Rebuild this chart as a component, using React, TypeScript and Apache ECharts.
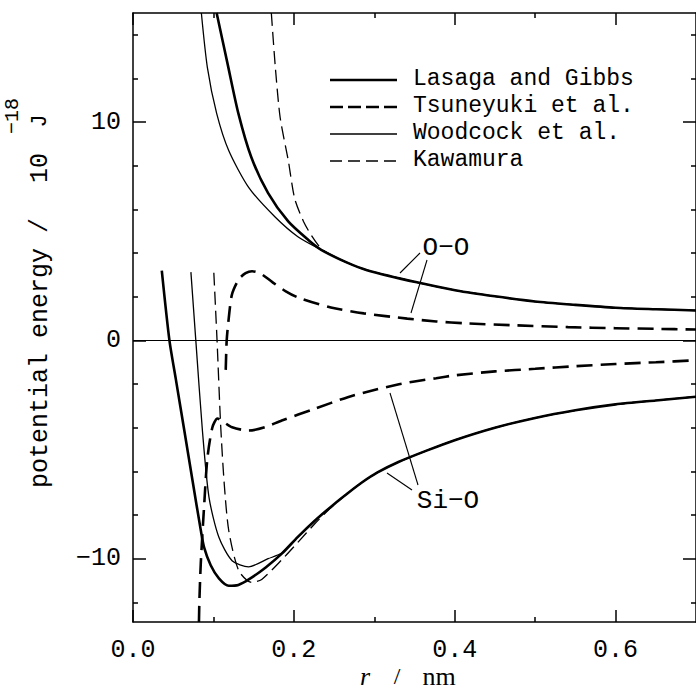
import React, { useEffect, useRef } from "react";
import * as echarts from "echarts";

// ---- axis ticks ----
const xMajor = [0, 0.2, 0.4, 0.6];
const xMinor = [0.1, 0.3, 0.5];
const yMajor = [-10, 0, 10];
const yMinor = [-12, -8, -6, -4, -2, 2, 4, 6, 8, 12, 14];

// ---- O-O curves [r (nm), energy (1e-18 J)] ----
const lasagaOO = [
  [0.104, 15.0], [0.118, 12.6], [0.131, 10.4], [0.147, 8.4], [0.168, 6.75], [0.193, 5.45],
  [0.218, 4.6], [0.234, 4.15], [0.267, 3.55], [0.291, 3.22], [0.353, 2.66], [0.402, 2.29],
  [0.45, 2.02], [0.5, 1.78], [0.55, 1.63], [0.6, 1.5], [0.65, 1.43], [0.7, 1.37],
];
const woodcockOO = [
  [0.085, 15.0], [0.0925, 12.5], [0.104, 10.4], [0.119, 8.7], [0.144, 7.0], [0.177, 5.64],
  [0.205, 4.75], [0.234, 4.15],
];
const kawamuraOO = [
  [0.172, 15.0], [0.177, 12.5], [0.183, 10.2], [0.193, 8.26], [0.201, 6.5], [0.212, 5.45],
  [0.222, 4.8], [0.234, 4.2], [0.245, 3.95],
];
const tsuneyukiOO = [
  [0.1153, -1.35], [0.1165, 0.0], [0.119, 1.0], [0.123, 2.1], [0.1315, 2.8], [0.14, 3.08],
  [0.148, 3.17], [0.158, 3.08], [0.174, 2.65], [0.19, 2.25], [0.205, 1.97], [0.246, 1.51],
  [0.287, 1.24], [0.341, 1.0], [0.377, 0.87], [0.414, 0.78], [0.476, 0.69], [0.541, 0.61],
  [0.6, 0.56], [0.65, 0.53], [0.7, 0.5],
];

// ---- Si-O curves ----
const lasagaSiO = [
  [0.0358, 3.2], [0.0453, 0.0], [0.0535, -1.83], [0.0638, -4.13], [0.074, -6.42], [0.0843, -8.7],
  [0.0884, -9.48], [0.0966, -10.3], [0.1068, -10.9], [0.119, -11.24], [0.131, -11.2],
  [0.144, -10.95], [0.165, -10.4], [0.185, -9.77], [0.205, -9.0], [0.226, -8.26], [0.25, -7.5],
  [0.267, -7.0], [0.285, -6.5], [0.304, -6.05], [0.33, -5.57], [0.365, -5.05], [0.4, -4.57],
  [0.45, -4.0], [0.5, -3.55], [0.55, -3.2], [0.6, -2.93], [0.65, -2.75], [0.7, -2.58],
];
const woodcockSiO = [
  [0.072, 3.13], [0.0781, 0.0], [0.0863, -4.13], [0.0945, -7.19], [0.1068, -9.02],
  [0.1232, -10.09], [0.1438, -10.37], [0.168, -10.0], [0.185, -9.74],
];
const kawamuraSiO = [
  [0.1005, 3.1], [0.1045, 0.0], [0.109, -3.9], [0.1135, -6.6], [0.1191, -8.72], [0.1315, -10.55],
  [0.1478, -11.09], [0.16, -10.95], [0.185, -10.05], [0.205, -9.25], [0.226, -8.4], [0.245, -7.7],
];
const tsuneyukiSiO = [
  [0.0815, -14.0], [0.0825, -12.0], [0.0843, -10.2], [0.0884, -7.6], [0.0925, -5.4],
  [0.0986, -4.0], [0.105, -3.58], [0.112, -3.72], [0.1232, -3.98], [0.1438, -4.13],
  [0.164, -3.98], [0.185, -3.67], [0.226, -3.13], [0.267, -2.6], [0.3, -2.27], [0.328, -2.03],
  [0.35, -1.88], [0.377, -1.73], [0.4, -1.6], [0.45, -1.42], [0.5, -1.3], [0.55, -1.18],
  [0.6, -1.08], [0.65, -1.0], [0.7, -0.91],
];

const legendNames = ["Lasaga and Gibbs", "Tsuneyuki et al.", "Woodcock et al.", "Kawamura"];

const MONO = '"Liberation Mono", "DejaVu Sans Mono", monospace';
const SERIF = '"Liberation Serif", "DejaVu Serif", serif';

const THICK = 2.6;
const THIN = 1.3;
const DASH_THICK = [16, 8];
const DASH_THIN = [13, 6];

function xAx(position: string, values: number[], len: number, showLine: boolean, labels: boolean) {
  return {
    type: "value",
    position,
    min: 0,
    max: 0.7,
    axisLine: { show: showLine, onZero: false, lineStyle: { color: "#000", width: 1.5 } },
    axisTick: { show: true, inside: true, length: len, customValues: values, lineStyle: { color: "#000", width: 1.5 } },
    axisLabel: labels
      ? {
          show: true,
          customValues: values,
          margin: 16,
          formatter: (v: number) => v.toFixed(1),
          fontFamily: MONO,
          fontSize: 25,
          color: "#000",
        }
      : { show: false },
    splitLine: { show: false },
  };
}

function yAx(position: string, values: number[], len: number, showLine: boolean, labels: boolean) {
  return {
    type: "value",
    position,
    min: -12.9,
    max: 15,
    axisLine: { show: showLine, onZero: false, lineStyle: { color: "#000", width: 1.5 } },
    axisTick: { show: true, inside: true, length: len, customValues: values, lineStyle: { color: "#000", width: 1.5 } },
    axisLabel: labels
      ? {
          show: true,
          customValues: values,
          margin: 12,
          formatter: (v: number) => (v < 0 ? "\u2212" + Math.abs(v) : String(v)),
          fontFamily: MONO,
          fontSize: 25,
          color: "#000",
        }
      : { show: false },
    splitLine: { show: false },
  };
}

function line(name: string, data: number[][], width: number, dash: any, z = 2, extra: any = {}) {
  return {
    name,
    type: "line",
    xAxisIndex: 0,
    yAxisIndex: 0,
    data,
    showSymbol: false,
    symbol: "none",
    smooth: 0.25,
    clip: true,
    silent: true,
    z,
    lineStyle: { color: "#000", width, type: dash },
    ...extra,
  };
}

function txt(t: string, x: number, y: number, font: string, align = "center", rotation = 0) {
  return {
    type: "text",
    silent: true,
    x,
    y,
    rotation,
    style: {
      text: t,
      font,
      fill: "#000",
      textAlign: align,
      textVerticalAlign: "middle",
      align,
      verticalAlign: "middle",
    },
  };
}

export default function App() {
  const ref = useRef<HTMLDivElement>(null);
  useEffect(() => {
    const chart = echarts.init(ref.current!, null, { renderer: "svg" });
    const ooTail = lasagaOO.filter((p) => p[0] > 0.24);
    const ooTailK = lasagaOO.filter((p) => p[0] > 0.25);
    const sioTailW = lasagaSiO.filter((p) => p[0] > 0.19);
    const sioTailK = lasagaSiO.filter((p) => p[0] > 0.25);

    const legendY = [79, 106, 133, 160];
    const legendStyles = [
      { w: THICK, d: null },
      { w: THICK, d: [13, 5] },
      { w: THIN, d: null },
      { w: THIN, d: [12, 6] },
    ];
    const graphics: any[] = [];
    legendNames.forEach((n, i) => {
      graphics.push({
        type: "line",
        silent: true,
        shape: { x1: 330, y1: legendY[i] + 1, x2: 397, y2: legendY[i] + 1 },
        style: { stroke: "#000", lineWidth: legendStyles[i].w, lineDash: legendStyles[i].d },
      });
      graphics.push(txt(n, 413, legendY[i], `23px ${MONO}`, "left"));
    });
    // annotations
    const seg = (x1: number, y1: number, x2: number, y2: number) => ({
      type: "line",
      silent: true,
      shape: { x1, y1, x2, y2 },
      style: { stroke: "#000", lineWidth: 1.1 },
    });
    graphics.push(txt("O\u2212O", 446, 248, `26px ${MONO}`));
    graphics.push(seg(420, 253, 400, 273));
    graphics.push(seg(427, 260, 411, 313));
    graphics.push(txt("Si\u2212O", 448, 501, `26px ${MONO}`));
    graphics.push(seg(418, 485, 390, 393));
    graphics.push(seg(412, 490, 387, 473));

    // y axis title (rotated, reading upward)
    graphics.push(txt("potential energy /", 40, 488, `25px ${MONO}`, "left", Math.PI / 2));
    graphics.push(txt("10", 40, 168, `25px ${MONO}`, "center", Math.PI / 2));
    graphics.push(txt("\u221218", 12, 116, `20px ${MONO}`, "center", Math.PI / 2));
    graphics.push(txt("J", 40, 121, `22px ${MONO}`, "center", Math.PI / 2));
    // x axis title
    graphics.push(txt("r", 365, 676, `italic 26px ${SERIF}`));
    graphics.push(txt("/", 397, 676, `24px ${SERIF}`));
    graphics.push(txt("nm", 439, 676, `26px ${SERIF}`));

    const option: any = {
      animation: false,
      backgroundColor: "#fff",
      grid: { left: 133, top: 13, right: -6, bottom: 69, containLabel: false },
      xAxis: [
        xAx("bottom", xMajor, 12, true, true),
        xAx("bottom", xMinor, 5, false, false),
        xAx("top", xMajor, 12, true, false),
        xAx("top", xMinor, 5, false, false),
      ],
      yAxis: [
        yAx("left", yMajor, 13, true, true),
        yAx("left", yMinor, 5, false, false),
        yAx("right", yMajor, 13, true, false),
        yAx("right", yMinor, 5, false, false),
      ],
      series: [
        line("Lasaga and Gibbs O-O", lasagaOO, THICK, "solid", 3, {
          markLine: {
            silent: true,
            symbol: ["none", "none"],
            label: { show: false },
            lineStyle: { color: "#000", width: 1.2, type: "solid" },
            data: [{ yAxis: 0 }],
          },
        }),
        line("Woodcock et al. O-O", woodcockOO.concat(ooTail), THIN, "solid"),
        line("Kawamura O-O", kawamuraOO.concat(ooTailK), THIN, DASH_THIN),
        line("Tsuneyuki et al. O-O", tsuneyukiOO, THICK, DASH_THICK),
        line("Lasaga and Gibbs Si-O", lasagaSiO, THICK, "solid", 3),
        line("Woodcock et al. Si-O", woodcockSiO.concat(sioTailW), THIN, "solid"),
        line("Kawamura Si-O", kawamuraSiO.concat(sioTailK), THIN, DASH_THIN),
        line("Tsuneyuki et al. Si-O", tsuneyukiSiO, THICK, DASH_THICK),
      ],
      graphic: graphics,
    };
    chart.setOption(option);
    return () => chart.dispose();
  }, []);
  return (
    <div
      ref={ref}
      style={{ position: "absolute", left: 0, top: 0, width: 696, height: 691, background: "#fff" }}
    />
  );
}
